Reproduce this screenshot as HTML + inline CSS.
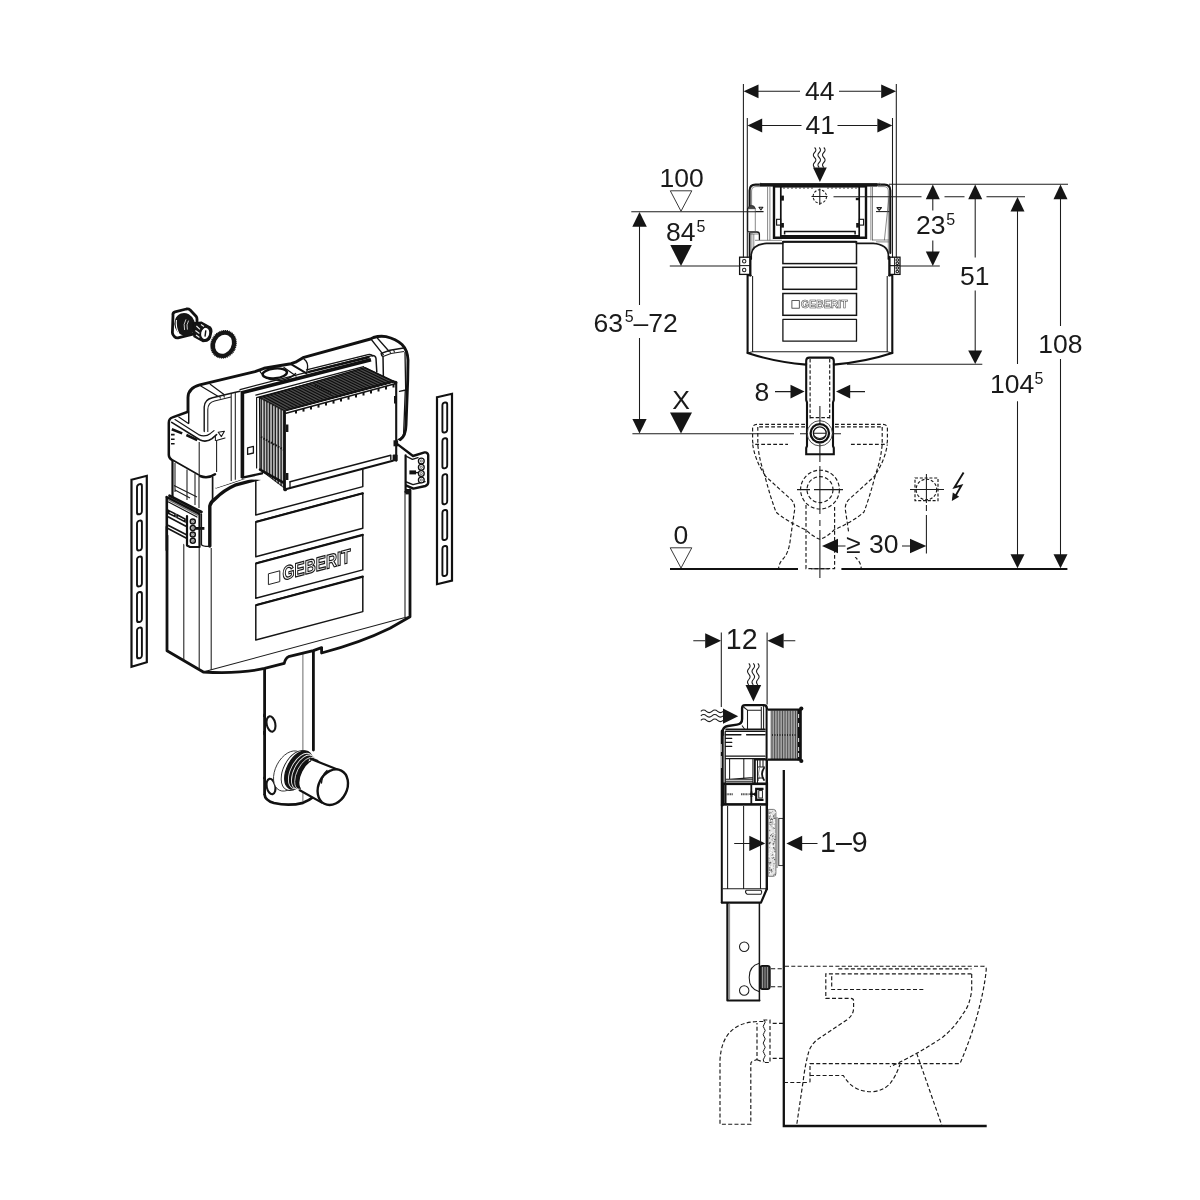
<!DOCTYPE html>
<html><head><meta charset="utf-8"><title>Geberit cistern dimensional drawing</title>
<style>
html,body{margin:0;padding:0;background:#fff;}
body{width:1200px;height:1200px;overflow:hidden;font-family:"Liberation Sans",sans-serif;}
svg{display:block;position:absolute;left:0;top:0;filter:grayscale(1);}
text{font-family:"Liberation Sans",sans-serif;fill:#1a1a1a;}
.t{font-size:26.5px;}
.s{font-size:16px;}
.k{stroke:#111;stroke-width:2;fill:none;stroke-linecap:round;stroke-linejoin:round;}
.m{stroke:#151515;stroke-width:1.3;fill:none;stroke-linecap:round;stroke-linejoin:round;}
.n{stroke:#1c1c1c;stroke-width:1.05;fill:none;stroke-linecap:butt;stroke-linejoin:round;}
.h{stroke:#555;stroke-width:0.7;fill:none;}
.d{stroke:#1a1a1a;stroke-width:1.15;fill:none;stroke-dasharray:4.2 2.4;}
.a{fill:#151515;stroke:none;}
.w{fill:#fff;}
</style></head>
<body>
<svg width="1200" height="1200" viewBox="0 0 1200 1200">
<rect x="0" y="0" width="1200" height="1200" fill="#fff"/>
<!-- ===== FRONT ELEVATION : cistern body ===== -->
<g id="fe-body">
<!-- cover outline -->
<path class="m" d="M749.6,206V190.5Q749.6,184.6 755.5,184.6H884.5Q890.3,184.6 890.3,190.5V253" style="stroke-width:2.1"/>
<path class="h" d="M751.6,206V191Q751.6,186.6 756,186.6H760M888.3,252V191Q888.3,186.6 884,186.6H878"/>
<circle cx="760.8" cy="184.4" r="1.2" class="h"/><circle cx="879.2" cy="184.4" r="1.2" class="h"/>
<!-- top black bar with teeth -->
<rect class="a" x="760" y="183.2" width="117.5" height="3.4"/>
<rect class="a" x="773" y="186" width="94" height="1.6"/>
<path d="M784,187.6V188.8M788,187.6V188.8M792,187.6V188.8M796,187.6V188.8M800,187.6V188.8M804,187.6V188.8M808,187.6V188.8M812,187.6V188.8M828,187.6V188.8M832,187.6V188.8M836,187.6V188.8M840,187.6V188.8M844,187.6V188.8M848,187.6V188.8M852,187.6V188.8M856,187.6V188.8" stroke="#222" stroke-width="1.2"/>
<!-- double thin verticals -->
<path class="h" d="M767.6,186.5V240.3M769.9,186.5V240.3M870.9,186.5V240.3M872.5,186.5V240.3"/>
<!-- actuator frame -->
<path d="M774,186V237.8H866V186" stroke="#111" stroke-width="2.4" fill="none"/>
<path d="M780.8,187V236.5M859.2,187V236.5" stroke="#111" stroke-width="1.7" fill="none"/>
<path d="M780,235.9H860" stroke="#111" stroke-width="2" fill="none"/>
<!-- flap -->
<path d="M784.6,234.5V231.4H855.1V234.5" stroke="#111" stroke-width="1.5" fill="none"/>
<!-- latches -->
<rect class="a" x="781.1" y="195.6" width="2.8" height="5"/>
<rect class="a" x="855.8" y="197.8" width="3.2" height="2.4"/>
<rect x="776.6" y="219.3" width="4" height="5.8" stroke="#111" stroke-width="1.1" fill="#fff"/>
<rect class="a" x="781.1" y="223" width="2.8" height="4.6"/>
<rect x="859.4" y="219.3" width="4.2" height="5.8" stroke="#111" stroke-width="1.1" fill="#fff"/>
<rect class="a" x="856.2" y="223" width="2.8" height="4.6"/>
<!-- cross circle -->
<circle cx="819.8" cy="196.5" r="6.7" class="n" style="stroke-dasharray:2.6 1.6"/>
<path class="n" d="M811.5,196.5H827.5M819.8,188.5V205"/>
<!-- left pocket -->
<path d="M747.6,208.5V230.5Q747.6,232 749.2,232H757Q759.4,232 759.4,234.5V239.5" class="m"/>
<path d="M748,208.6Q748,205.6 751.5,205.4Q754.6,205.4 755.3,208.6Z" fill="#444" stroke="#222" stroke-width="0.8"/>
<path class="h" d="M755.3,208.5V232M748,208.6H755.3"/>
<path class="n" d="M758.9,207.3H762.9L760.9,209.9Z"/>
<path class="n" d="M756,211.5H763.3"/>
<path d="M749.6,233V257" stroke="#111" stroke-width="1.8" fill="none"/>
<path class="h" d="M751.9,233V250M753.8,234V247M749.6,234H759M755,240.3H782"/>
<!-- right pocket / water mark -->
<path class="n" d="M876.9,207.6H881.5L879.2,210.3Z"/>
<path class="n" d="M876,211.6H889.5"/>
<path class="h" d="M888.9,197.5L884.4,240.3M872,240H889.5M876,241.9H889"/>
<!-- tank top + shoulders -->
<path d="M782.6,241.8H856.4" stroke="#111" stroke-width="2" fill="none"/>
<path class="m" d="M751.2,259V254.5Q752.4,244.4 766.5,243.4H782.6M856.4,243.4H873.2Q887.3,244.4 888.4,254.5V259" style="stroke-width:1.7"/>
<!-- brackets -->
<rect x="739.6" y="257.2" width="10.4" height="17.2" stroke="#111" stroke-width="1.3" fill="#fff"/>
<path class="n" d="M739.6,265.6H750"/>
<circle cx="744.2" cy="261.3" r="1.7" class="n"/><circle cx="744.2" cy="270" r="1.7" class="n"/>
<rect x="889.7" y="257.2" width="10.3" height="17.2" stroke="#111" stroke-width="1.3" fill="#fff"/>
<path class="n" d="M889.7,265.6H900M894.6,257.2V274.4"/>
<circle cx="897.3" cy="260" r="1.3" class="n"/><circle cx="897.3" cy="263.3" r="1.3" class="n"/><circle cx="897.3" cy="268" r="1.3" class="n"/><circle cx="897.3" cy="271.5" r="1.3" class="n"/>
<!-- tank sides -->
<path class="k" d="M750.4,257V275.5M747.6,275.5V353M889.3,257V275.5M892.3,275.5V353" style="stroke-width:2.1"/>
<path class="k" d="M747.6,275.5H751M889,275.5H892.3" style="stroke-width:1.6"/>
<path class="n" d="M752.6,276V351.7H887.2V276M747.6,353L752.6,351.7M892.3,353L887.2,351.7"/>
<!-- bottom curve -->
<path class="k" d="M747.6,353Q775,362 806.2,364.6M833.8,364.6Q865,362 892.3,353" style="stroke-width:2.1"/>
<!-- panels -->
<rect x="782.9" y="241.8" width="73.6" height="21.8" class="m" style="stroke-width:1.5;stroke-linejoin:miter"/>
<rect x="782.9" y="267.3" width="73.6" height="22" class="m" style="stroke-width:1.5;stroke-linejoin:miter"/>
<rect x="782.9" y="293.5" width="73.6" height="21.8" class="m" style="stroke-width:1.5;stroke-linejoin:miter"/>
<rect x="782.9" y="319.4" width="73.6" height="21.8" class="m"/>
<!-- logo -->
<rect x="791.9" y="300.6" width="7.4" height="7.6" fill="#fff" stroke="#333" stroke-width="0.8"/>
<text x="801" y="308.2" style="font-size:10.5px;font-weight:bold;fill:#fff;stroke:#444;stroke-width:0.55px;">GEBERIT</text>
<!-- flush pipe -->
<path class="w" d="M806.2,454V360.5Q806.2,357.6 809.2,357.6H830.8Q833.8,357.6 833.8,360.5V454Z"/>
<path class="k" d="M806.2,364V360.8Q806.2,357.6 809.4,357.6H830.6Q833.8,357.6 833.8,360.8V364" style="stroke-width:2.1"/>
<path class="k" d="M806.2,364V400L807,402.5V446L806.2,448V454.2H833.8V448L833,446V402.5L833.8,400V364" style="stroke-width:2.1;stroke-linejoin:miter"/>
<path class="d" d="M810.1,359V420M829.7,359V420M810.1,417.6H829.7" style="stroke-dasharray:3.6 2"/>
<!-- outlet rings -->
<circle cx="819.8" cy="433.3" r="12.6" fill="#fff" stroke="#222" stroke-width="0.8"/>
<circle cx="819.8" cy="433.3" r="9.2" fill="#fff" stroke="#111" stroke-width="2.3"/>
<circle cx="819.8" cy="433.3" r="6.4" fill="#fff" stroke="#111" stroke-width="1.3"/>
<path class="n" d="M813.6,433.3H826M813.9,436Q819.8,441 825.7,436"/>
</g>

<!-- ===== FRONT ELEVATION : toilet (dashed) ===== -->
<g id="fe-toilet" class="d" style="stroke-width:1.15;stroke-dasharray:3.8 2.2">
<path d="M805,424.3H757Q752.6,424.3 752.6,428.8V441Q752.6,444.3 755,444.3H788"/>
<path d="M835,424.3H883Q887.4,424.3 887.4,428.8V441Q887.4,444.3 885,444.3H850.5"/>
<path d="M805,426.9H757.7M835,426.9H882.3"/>
<path d="M757.8,427V444.5Q759.5,462 765.2,476L790,498.5Q795.4,503 794.6,510L790.5,538Q789,553 783,559Q779,563 778.6,568.5"/>
<path d="M882.2,427V444.5Q880.5,462 874.8,476L850,498.5Q844.6,503 845.4,510L849.5,538Q851,553 857,559Q861,563 861.2,568.5"/>
<path d="M752.7,444.5Q755,460 764.5,474.5Q770,496 776,512Q786,521 806,530Q813,537 820,539.2Q827,537 834,530Q854,521 864,512Q870,496 875.5,474.5Q885,460 887.3,444.5"/>
<circle cx="820" cy="489.6" r="19.4"/>
<circle cx="820" cy="489.6" r="13"/>
<path d="M806,505V568.6H834.6V505"/>
</g>
<g class="n">
<path d="M819.9,406V424M819.9,444V462M819.9,466V514M819.9,520V526M819.9,530V578" />
<path d="M797,489.6H810M814,489.6H843"/>
<path d="M811,568.8H829"/>
</g>

<!-- ===== FRONT ELEVATION : dimensions ===== -->
<g id="fe-dims">
<!-- 44 -->
<path class="n" d="M743.4,84V258M896.3,84V258"/>
<path class="n" d="M758,91.3H800M839,91.3H881.5"/>
<polygon class="a" points="743.6,91.3 758.5,84.4 758.5,98.2"/>
<polygon class="a" points="896.1,91.3 881.2,84.4 881.2,98.2"/>
<text class="t" x="805" y="99.6">44</text>
<!-- 41 -->
<path class="n" d="M747.3,118V258M892.5,118V258"/>
<path class="n" d="M761.5,125.5H801.5M837.5,125.5H877.5"/>
<polygon class="a" points="747.5,125.5 762.2,118.6 762.2,132.4"/>
<polygon class="a" points="892.3,125.5 877.4,118.6 877.4,132.4"/>
<text class="t" x="805.5" y="134.3">41</text>
<!-- wave arrow -->
<path class="n" d="M814.6,147.5q2.6,2.5 0,5t0,5t0,5t0,5M819.2,147.5q2.6,2.5 0,5t0,5t0,5t0,5M823.8,147.5q2.6,2.5 0,5t0,5t0,5t0,5"/>
<polygon class="a" points="813,167.6 826.8,167.6 819.9,182"/>
<!-- right side horizontals -->
<path class="n" d="M889,184.3H1068"/>
<path class="n" d="M833.5,196.7H921.5M944.5,196.7H964.5M986.5,196.7H1025"/>
<path class="n" d="M900,266H939.8"/>
<path class="n" d="M847,364.3H982.3"/>
<!-- 23^5 -->
<polygon class="a" points="932.8,184.6 925.8,199.2 939.8,199.2"/>
<path class="n" d="M932.8,199V210.5M932.8,240.5V252"/>
<polygon class="a" points="932.8,265.9 925.8,251.5 939.8,251.5"/>
<text class="t" x="916" y="234.4">23</text><text class="s" x="946.3" y="224.5">5</text>
<!-- 51 -->
<polygon class="a" points="975.2,184.6 968.2,199.2 982.2,199.2"/>
<path class="n" d="M975.2,199V257.5M975.2,290.5V351"/>
<polygon class="a" points="975.2,364.1 968.2,350.5 982.2,350.5"/>
<text class="t" x="960" y="284.8">51</text>
<!-- 104^5 -->
<polygon class="a" points="1017.5,197 1010.5,211.5 1024.5,211.5"/>
<path class="n" d="M1017.5,211V364M1017.5,401.3V555"/>
<polygon class="a" points="1017.5,568.2 1010.5,554.2 1024.5,554.2"/>
<text class="t" x="990" y="393.2">104</text><text class="s" x="1034.6" y="384.3">5</text>
<!-- 108 -->
<polygon class="a" points="1060.5,184.6 1053.5,199.2 1067.5,199.2"/>
<path class="n" d="M1060.5,199V326M1060.5,359V555"/>
<polygon class="a" points="1060.5,568.2 1053.5,554.2 1067.5,554.2"/>
<text class="t" x="1038.3" y="352.6">108</text>
<!-- left side -->
<text class="t" x="659.5" y="186.8">100</text>
<polygon points="670.3,190.8 691.8,190.8 681,211.2" fill="#fff" stroke="#222" stroke-width="0.9"/>
<path class="n" d="M631.3,211.8H763.5"/>
<polygon class="a" points="639.5,212 632.3,226.8 646.8,226.8"/>
<path class="n" d="M639.5,226V305M639.5,338V420"/>
<polygon class="a" points="639.5,433.5 632.4,419 646.6,419"/>
<text class="t" x="593.5" y="331.6">63</text><text class="s" x="624.8" y="322">5</text><text class="t" x="633.6" y="331.6">–72</text>
<text class="t" x="666" y="241.2">84</text><text class="s" x="696.6" y="231.6">5</text>
<polygon class="a" points="670.3,245 691.8,245 681,266"/>
<path class="n" d="M669.8,266H739.7"/>
<text class="t" x="672.2" y="408.6">X</text>
<polygon class="a" points="670,412.4 692,412.4 681,433.6"/>
<path class="n" d="M632.4,433.8H794M800,433.8H808M832,433.8H841"/>
<text class="t" x="673.5" y="544.2">0</text>
<polygon points="670.2,547.8 691.8,547.8 681,568" fill="#fff" stroke="#222" stroke-width="0.9"/>
<!-- floor -->
<path d="M670,569H798M841.4,569H1067.4" stroke="#111" stroke-width="2" fill="none"/>
<!-- 8 -->
<text class="t" x="754.5" y="401.2">8</text>
<path class="n" d="M775,391.6H791M850,391.6H865"/>
<polygon class="a" points="804.6,391.6 790.5,384.7 790.5,398.5"/>
<polygon class="a" points="836,391.6 850.2,384.7 850.2,398.5"/>
<!-- >=30 -->
<polygon class="a" points="822,546 838,538.8 838,553.2"/>
<path class="n" d="M838,546H846M902,546H910"/>
<polygon class="a" points="926.3,546 910,538.8 910,553.2"/>
<rect x="845.5" y="533" width="16" height="24" fill="#fff"/><text class="t" x="846" y="553.2">≥</text><text class="t" x="869" y="553.2">30</text>
<path class="n" d="M926.4,515V553.6"/>
<path class="n" d="M926.4,505V511"/>
<!-- electrical box -->
<rect x="915" y="478" width="23" height="22.6" class="d" style="stroke-dasharray:3 1.8"/>
<circle cx="926.4" cy="489.5" r="10.3" class="d" style="stroke-dasharray:3 1.8"/>
<path class="n" d="M910,489.5H944M926.4,474V503"/>
<path d="M963.6,472.4L954.4,487.4L961.4,485.6L955.4,496" class="m" style="stroke-width:1.9;stroke-linecap:butt;stroke-linejoin:miter"/>
<polygon class="a" points="951.8,501 952.8,492.4 959.2,496.8"/>
</g>

<!-- ===== SIDE VIEW ===== -->
<g id="sv">
<path class="n" d="M721.3,632.5V707M767.1,632.5V704.5"/>
<path class="n" d="M693.3,640.8H705.5M783.5,640.8H795.3"/>
<polygon class="a" points="721.1,640.8 705.2,633.3 705.2,648.3"/>
<polygon class="a" points="767.4,640.8 783.6,633.3 783.6,648.3"/>
<text class="t" style="font-size:28.6px" x="725.8" y="649.4">12</text>
<path class="n" d="M748.8,663.3q2.6,2.7 0,5.4t0,5.4t0,5.4t0,5.4"/>
<path class="n" d="M753.3,663.3q2.6,2.7 0,5.4t0,5.4t0,5.4t0,5.4"/>
<path class="n" d="M757.8,663.3q2.6,2.7 0,5.4t0,5.4t0,5.4t0,5.4"/>
<polygon class="a" points="745.5,685 761.2,685 753.4,701.4"/>
<path class="n" d="M700.8,711.3q2.8,-2.6 5.6,0t5.6,0t5.6,0t5.6,0"/>
<path class="n" d="M700.8,715.8q2.8,-2.6 5.6,0t5.6,0t5.6,0t5.6,0"/>
<path class="n" d="M700.8,720.3q2.8,-2.6 5.6,0t5.6,0t5.6,0t5.6,0"/>
<polygon class="a" points="723,708.5 723,723.8 738.2,716.2"/>
<path class="k" d="M722.6,735V731.5Q722.8,727 728,726L737,724.6Q742.1,724 742.1,719V708.2Q742.1,705.1 745.2,705.1H763.6Q766.8,705.1 766.8,708.2V760" style="stroke-width:2.4"/>
<path class="n" d="M743.5,707L747.5,710.2V729M747.5,710.2H761.3M761.3,707V729M763.6,706V729M742,725.5L744.5,729"/>
<path class="m" d="M726,729.3H765M725.5,731.2H765" style="stroke-width:1.6"/>
<path class="k" d="M722.2,731V805" style="stroke-width:3"/>
<path class="k" d="M721.8,805V902.5" style="stroke-width:2"/>
<path d="M721.2,744V752M721.2,756V768" stroke="#fff" stroke-width="0.9"/>
<path class="m" d="M725.2,732V784"/>
<path class="m" d="M725.5,734.8H740.8M746.7,734.8H765" style="stroke-width:1.6"/>
<path class="m" d="M725.5,738.3H731.8M725.5,742.4H731.8M725.5,746.3H731.8" style="stroke-width:1.2"/>
<path class="m" d="M725.5,756.2H765M725.5,758.6H765"/>
<path class="n" d="M729.6,759V779M743.8,759V779M752.9,759V783M725.5,779.2H753M725.5,781.3H753M729.6,779.2L753,777.5"/>
<path class="m" d="M754.8,759V783M754.8,759.6H766" style="stroke-width:2"/>
<path class="n" d="M757.5,760V783M760,760V767M763,760V767M757.5,767H765M758,781V778H764"/>
<path class="m" d="M764,768Q760,774 764,780" style="stroke-width:1.8"/>
<path class="h" d="M759.5,768Q757.5,774 759.5,779"/>
<path class="k" d="M766.8,760V889" style="stroke-width:2.4"/>
<rect x="723.4" y="783.8" width="43.4" height="20.6" fill="#fff" stroke="#111" stroke-width="2.6"/>
<path class="m" d="M725.6,784V804M751.3,785V803.5" style="stroke-width:1.8"/>
<path d="M726.5,794.2H733M741,794.2H748.5" stroke="#555" stroke-width="2" stroke-dasharray="1.2 0.5"/>
<path d="M749.5,794.2H754M751.5,791.5V797" stroke="#111" stroke-width="1.8" fill="none"/>
<path d="M763.5,788.8H756.2V799.8H763.5" stroke="#111" stroke-width="2.2" fill="none"/>
<path d="M754,794.2H757" stroke="#111" stroke-width="3" fill="none"/>
<rect x="758.8" y="790.6" width="3.6" height="7.4" fill="#fff" stroke="#111" stroke-width="0.9"/>
<path class="n" d="M727.6,806V889M743.6,806V889M760.5,806V889M722.5,888.8H766"/>
<path class="n" d="M746,890.2H761Q762.6,892.2 761,894.2H747Q744.6,892.2 746,890.2Z"/>
<path class="k" d="M721.8,902.6H761L766.8,889" style="stroke-width:2.2"/>
<path class="k" d="M727.4,903V1000.5H759.4" style="stroke-width:2.2"/>
<path class="m" d="M759.4,903V1000.5" style="stroke-width:1.5"/>
<path class="h" d="M729.6,903V999"/>
<circle cx="744.2" cy="946.7" r="4.7" class="n"/><circle cx="744.2" cy="990.5" r="4.7" class="n"/>
<path class="n" d="M759.4,963.3Q749,966 749.2,977.5Q749,989 759.4,991.7"/>
<rect x="760" y="965.8" width="10" height="23.4" rx="2.4" fill="#333" stroke="#111" stroke-width="1.4"/>
<path d="M762.6,967V988M765,967V988M767.4,967V988" stroke="#bbb" stroke-width="0.8"/>
<path class="d" d="M771,968.7H783M771,986.7H783"/>
<rect x="767.6" y="709.6" width="30" height="50" fill="#fff"/>
<rect x="771" y="710.5" width="26.5" height="48.5" fill="#d8d8d8"/>
<path d="M771.20,710.5V759" stroke="#222" stroke-width="0.75"/>
<path d="M772.82,710.5V759" stroke="#222" stroke-width="0.75"/>
<path d="M774.44,710.5V759" stroke="#222" stroke-width="0.75"/>
<path d="M776.06,710.5V759" stroke="#222" stroke-width="0.75"/>
<path d="M777.68,710.5V759" stroke="#222" stroke-width="0.75"/>
<path d="M779.30,710.5V759" stroke="#222" stroke-width="0.75"/>
<path d="M780.92,710.5V759" stroke="#222" stroke-width="0.75"/>
<path d="M782.54,710.5V759" stroke="#222" stroke-width="0.75"/>
<path d="M784.16,710.5V759" stroke="#222" stroke-width="0.75"/>
<path d="M785.78,710.5V759" stroke="#222" stroke-width="0.75"/>
<path d="M787.40,710.5V759" stroke="#222" stroke-width="0.75"/>
<path d="M789.02,710.5V759" stroke="#222" stroke-width="0.75"/>
<path d="M790.64,710.5V759" stroke="#222" stroke-width="0.75"/>
<path d="M792.26,710.5V759" stroke="#222" stroke-width="0.75"/>
<path d="M793.88,710.5V759" stroke="#222" stroke-width="0.75"/>
<path d="M795.50,710.5V759" stroke="#222" stroke-width="0.75"/>
<path d="M797.12,710.5V759" stroke="#222" stroke-width="0.75"/>
<path d="M772,735H796" stroke="#111" stroke-width="1.3" stroke-dasharray="1 1.5"/>
<path d="M767.6,709.6H800M767.6,759.7H800" stroke="#111" stroke-width="2.2" fill="none"/>
<rect x="797.4" y="709" width="4.4" height="51.4" fill="#111"/>
<circle cx="801.3" cy="708.6" r="2.1" fill="#111"/><circle cx="801.3" cy="761" r="2.1" fill="#111"/>
<path d="M798.6,714V718M798.6,723V727M798.6,738V742M798.6,747V751M798.6,753V757" stroke="#fff" stroke-width="0.9"/>
<path d="M768.2,809.4H773.5Q775.9,809.6 775.9,812V873.5Q775.9,876.2 773.5,876.3H768.2Z" fill="#e4e4e4" stroke="#444" stroke-width="0.7"/>
<circle cx="770.9" cy="820.3" r="0.68" fill="#666"/>
<circle cx="774.1" cy="816.6" r="0.64" fill="#fff"/>
<circle cx="770.2" cy="816.1" r="0.56" fill="#888"/>
<circle cx="769.4" cy="838.1" r="0.76" fill="#666"/>
<circle cx="774.9" cy="851.5" r="0.64" fill="#666"/>
<circle cx="772.5" cy="836.3" r="0.84" fill="#666"/>
<circle cx="772.4" cy="819.2" r="0.56" fill="#fff"/>
<circle cx="769.6" cy="830.6" r="0.76" fill="#888"/>
<circle cx="769.5" cy="847.6" r="0.44" fill="#666"/>
<circle cx="772.3" cy="814.6" r="0.38" fill="#888"/>
<circle cx="772.0" cy="845.1" r="0.74" fill="#fff"/>
<circle cx="772.5" cy="840.0" r="0.50" fill="#888"/>
<circle cx="773.3" cy="826.4" r="0.64" fill="#fff"/>
<circle cx="772.0" cy="832.8" r="0.57" fill="#fff"/>
<circle cx="775.1" cy="818.2" r="0.56" fill="#555"/>
<circle cx="769.8" cy="842.3" r="0.37" fill="#666"/>
<circle cx="773.7" cy="847.7" r="0.79" fill="#555"/>
<circle cx="771.0" cy="833.3" r="0.60" fill="#fff"/>
<circle cx="769.2" cy="816.6" r="0.48" fill="#666"/>
<circle cx="769.2" cy="856.1" r="0.67" fill="#fff"/>
<circle cx="770.6" cy="835.6" r="0.68" fill="#666"/>
<circle cx="774.8" cy="833.6" r="0.66" fill="#fff"/>
<circle cx="769.2" cy="860.4" r="0.41" fill="#888"/>
<circle cx="771.3" cy="870.1" r="0.60" fill="#888"/>
<circle cx="771.7" cy="846.2" r="0.79" fill="#fff"/>
<circle cx="774.3" cy="828.6" r="0.56" fill="#555"/>
<circle cx="773.2" cy="835.2" r="0.47" fill="#666"/>
<circle cx="769.9" cy="825.6" r="0.47" fill="#fff"/>
<circle cx="774.1" cy="822.4" r="0.49" fill="#888"/>
<circle cx="771.5" cy="834.5" r="0.63" fill="#888"/>
<circle cx="773.2" cy="844.0" r="0.66" fill="#666"/>
<circle cx="771.7" cy="867.1" r="0.83" fill="#fff"/>
<circle cx="771.3" cy="836.4" r="0.40" fill="#fff"/>
<circle cx="769.2" cy="814.9" r="0.45" fill="#888"/>
<circle cx="769.5" cy="849.5" r="0.40" fill="#fff"/>
<circle cx="769.8" cy="817.1" r="0.53" fill="#666"/>
<circle cx="769.3" cy="824.0" r="0.54" fill="#555"/>
<circle cx="774.9" cy="849.6" r="0.59" fill="#666"/>
<circle cx="774.2" cy="875.1" r="0.58" fill="#fff"/>
<circle cx="770.8" cy="819.9" r="0.72" fill="#555"/>
<circle cx="771.9" cy="855.5" r="0.61" fill="#888"/>
<circle cx="774.9" cy="844.8" r="0.42" fill="#fff"/>
<circle cx="774.7" cy="859.8" r="0.50" fill="#666"/>
<circle cx="773.3" cy="827.5" r="0.53" fill="#888"/>
<circle cx="771.1" cy="825.0" r="0.62" fill="#fff"/>
<circle cx="770.9" cy="825.0" r="0.76" fill="#888"/>
<circle cx="774.0" cy="863.7" r="0.72" fill="#888"/>
<circle cx="770.1" cy="842.5" r="0.72" fill="#666"/>
<circle cx="773.9" cy="841.2" r="0.45" fill="#fff"/>
<circle cx="774.9" cy="839.6" r="0.82" fill="#555"/>
<circle cx="774.9" cy="834.2" r="0.46" fill="#888"/>
<circle cx="771.8" cy="832.5" r="0.59" fill="#fff"/>
<circle cx="774.2" cy="841.7" r="0.68" fill="#666"/>
<circle cx="774.1" cy="818.3" r="0.54" fill="#888"/>
<circle cx="771.9" cy="822.1" r="0.74" fill="#555"/>
<circle cx="769.4" cy="872.0" r="0.71" fill="#fff"/>
<circle cx="771.4" cy="872.0" r="0.71" fill="#888"/>
<circle cx="775.2" cy="812.3" r="0.65" fill="#fff"/>
<circle cx="774.0" cy="820.0" r="0.76" fill="#fff"/>
<circle cx="773.0" cy="833.3" r="0.62" fill="#888"/>
<circle cx="768.9" cy="862.5" r="0.71" fill="#666"/>
<circle cx="772.2" cy="871.2" r="0.57" fill="#888"/>
<circle cx="774.1" cy="824.2" r="0.48" fill="#555"/>
<circle cx="772.0" cy="860.1" r="0.51" fill="#fff"/>
<circle cx="771.5" cy="819.0" r="0.81" fill="#555"/>
<circle cx="774.5" cy="853.6" r="0.76" fill="#fff"/>
<circle cx="771.5" cy="870.2" r="0.60" fill="#fff"/>
<circle cx="769.8" cy="843.7" r="0.79" fill="#888"/>
<circle cx="772.7" cy="860.9" r="0.42" fill="#888"/>
<circle cx="771.8" cy="857.6" r="0.63" fill="#555"/>
<circle cx="773.2" cy="845.0" r="0.59" fill="#666"/>
<circle cx="774.5" cy="814.2" r="0.45" fill="#666"/>
<circle cx="773.7" cy="843.5" r="0.63" fill="#666"/>
<circle cx="771.6" cy="850.3" r="0.60" fill="#fff"/>
<circle cx="770.1" cy="828.5" r="0.60" fill="#fff"/>
<circle cx="772.0" cy="826.6" r="0.61" fill="#555"/>
<circle cx="774.7" cy="868.5" r="0.45" fill="#fff"/>
<circle cx="769.7" cy="818.4" r="0.57" fill="#666"/>
<circle cx="773.1" cy="838.3" r="0.46" fill="#555"/>
<circle cx="773.8" cy="868.8" r="0.43" fill="#555"/>
<circle cx="769.7" cy="867.9" r="0.83" fill="#888"/>
<circle cx="773.6" cy="816.6" r="0.79" fill="#888"/>
<circle cx="775.1" cy="864.6" r="0.43" fill="#fff"/>
<circle cx="775.2" cy="836.7" r="0.56" fill="#555"/>
<circle cx="770.8" cy="857.4" r="0.36" fill="#fff"/>
<circle cx="771.7" cy="856.2" r="0.54" fill="#fff"/>
<circle cx="772.8" cy="843.8" r="0.38" fill="#888"/>
<circle cx="775.0" cy="817.3" r="0.48" fill="#666"/>
<circle cx="774.6" cy="822.3" r="0.73" fill="#fff"/>
<circle cx="774.2" cy="854.4" r="0.82" fill="#fff"/>
<circle cx="769.8" cy="870.2" r="0.64" fill="#555"/>
<circle cx="769.4" cy="814.2" r="0.69" fill="#fff"/>
<circle cx="774.5" cy="828.0" r="0.36" fill="#666"/>
<circle cx="773.9" cy="815.9" r="0.78" fill="#666"/>
<circle cx="770.5" cy="818.4" r="0.36" fill="#fff"/>
<circle cx="771.5" cy="870.0" r="0.66" fill="#666"/>
<circle cx="772.2" cy="826.0" r="0.40" fill="#888"/>
<circle cx="770.5" cy="822.3" r="0.82" fill="#555"/>
<circle cx="772.2" cy="823.9" r="0.57" fill="#888"/>
<circle cx="770.5" cy="862.7" r="0.85" fill="#666"/>
<circle cx="768.9" cy="858.2" r="0.63" fill="#888"/>
<circle cx="772.1" cy="826.5" r="0.57" fill="#fff"/>
<circle cx="773.0" cy="846.0" r="0.79" fill="#fff"/>
<circle cx="770.8" cy="824.5" r="0.46" fill="#888"/>
<circle cx="774.1" cy="856.4" r="0.67" fill="#fff"/>
<circle cx="775.1" cy="874.3" r="0.77" fill="#666"/>
<circle cx="769.3" cy="858.7" r="0.48" fill="#888"/>
<circle cx="769.2" cy="853.7" r="0.54" fill="#fff"/>
<circle cx="773.1" cy="828.8" r="0.47" fill="#555"/>
<circle cx="769.1" cy="822.5" r="0.48" fill="#666"/>
<circle cx="770.5" cy="873.0" r="0.84" fill="#fff"/>
<circle cx="770.9" cy="812.7" r="0.79" fill="#888"/>
<circle cx="771.1" cy="810.6" r="0.54" fill="#fff"/>
<circle cx="770.6" cy="853.1" r="0.47" fill="#666"/>
<circle cx="769.4" cy="863.6" r="0.42" fill="#fff"/>
<circle cx="769.1" cy="812.0" r="0.50" fill="#888"/>
<circle cx="769.3" cy="872.7" r="0.78" fill="#888"/>
<circle cx="773.0" cy="857.0" r="0.79" fill="#fff"/>
<circle cx="773.7" cy="857.3" r="0.60" fill="#555"/>
<circle cx="773.4" cy="852.3" r="0.37" fill="#fff"/>
<circle cx="772.8" cy="858.2" r="0.76" fill="#888"/>
<circle cx="774.6" cy="859.4" r="0.63" fill="#666"/>
<circle cx="774.1" cy="848.5" r="0.80" fill="#888"/>
<circle cx="769.3" cy="813.2" r="0.67" fill="#666"/>
<circle cx="771.2" cy="839.8" r="0.38" fill="#666"/>
<circle cx="772.8" cy="854.7" r="0.59" fill="#666"/>
<circle cx="771.7" cy="815.1" r="0.82" fill="#fff"/>
<circle cx="769.4" cy="844.7" r="0.72" fill="#fff"/>
<circle cx="770.4" cy="815.3" r="0.48" fill="#888"/>
<circle cx="770.3" cy="852.7" r="0.58" fill="#fff"/>
<circle cx="769.3" cy="869.7" r="0.49" fill="#666"/>
<circle cx="772.7" cy="852.3" r="0.39" fill="#888"/>
<circle cx="770.9" cy="852.8" r="0.70" fill="#fff"/>
<circle cx="772.4" cy="811.3" r="0.38" fill="#555"/>
<circle cx="775.0" cy="817.0" r="0.46" fill="#fff"/>
<circle cx="770.7" cy="844.1" r="0.58" fill="#fff"/>
<circle cx="773.7" cy="875.1" r="0.62" fill="#555"/>
<circle cx="775.1" cy="871.4" r="0.36" fill="#fff"/>
<circle cx="769.3" cy="843.4" r="0.85" fill="#555"/>
<circle cx="771.3" cy="870.1" r="0.82" fill="#666"/>
<circle cx="772.5" cy="819.7" r="0.61" fill="#555"/>
<circle cx="769.6" cy="863.8" r="0.60" fill="#666"/>
<circle cx="773.3" cy="825.5" r="0.80" fill="#fff"/>
<circle cx="771.3" cy="820.8" r="0.82" fill="#fff"/>
<circle cx="771.4" cy="857.8" r="0.56" fill="#fff"/>
<circle cx="770.8" cy="865.1" r="0.35" fill="#555"/>
<circle cx="774.2" cy="818.3" r="0.81" fill="#666"/>
<circle cx="774.6" cy="829.3" r="0.54" fill="#fff"/>
<circle cx="771.3" cy="867.0" r="0.39" fill="#fff"/>
<circle cx="773.6" cy="866.0" r="0.49" fill="#666"/>
<path d="M776.9,817V868" stroke="#999" stroke-width="1.6"/>
<rect x="778.8" y="818.4" width="4.4" height="47.2" fill="#fff" stroke="#222" stroke-width="0.9"/>
<path d="M783.8,770V1126H986.7" stroke="#111" stroke-width="2.3" fill="none" stroke-linejoin="miter"/>
<path class="n" d="M734.2,843.4H750M802,843.4H817.5"/>
<polygon class="a" points="765.2,843.4 749.3,835.8 749.3,851"/>
<polygon class="a" points="786.4,843.4 802.2,835.8 802.2,851"/>
<text class="t" style="font-size:28.6px" x="820" y="852.2">1–9</text>
</g>
<!-- ===== SIDE VIEW : toilet + drain (dashed) ===== -->
<g id="sv-toilet" class="d" style="stroke-width:1.15;stroke-dasharray:4 2.3">
<path d="M785,966.2H983Q986.6,966.2 986.2,970Q984.5,990 975,1023.3Q968,1045 960,1063.6H810V1081.5Q810,1082.5 808,1082.5H785"/>
<path d="M838.3,968.8H971.5"/>
<path d="M971.7,974V990Q970,1005 963.3,1013.3Q955,1027 943.3,1036.7Q930,1046 916.7,1053.3Q905,1060 890,1066.7"/>
<path d="M971.5,973.8H825.8V998.3H851Q853.6,998.3 853.6,1001V1008Q853.6,1015 846.7,1020L816.7,1040Q810,1046 808.3,1053.3Q805,1066 803.3,1080L796.7,1125"/>
<path d="M923.3,989.5H831.7V975"/>
<path d="M810,1075.5H843.3Q848,1083 853.3,1086.7Q862,1092 871.7,1091.7Q884,1091 890.5,1083Q896,1076 900,1064.5"/>
<path d="M916.7,1053.3L941.7,1125"/>
<!-- drain elbow -->
<path d="M783,1023.3H771M783,1058.3H771"/>
<path d="M763.3,1020H770V1062.5H763.3"/>
<path d="M763.3,1021.5H757Q722,1023 720,1060V1124.2H750.8V1064Q750.8,1061.7 753,1061L757,1059.5V1023"/>
<path d="M757,1059.8L763.3,1062"/>
</g>
<path class="n" d="M764.2,1020q2,2.1 0,4.2t0,4.2t0,4.2t0,4.2t0,4.2t0,4.2t0,4.2t0,4.2t0,4.2t0,4.2" style="stroke-width:1"/>

<!-- ===== ISOMETRIC VIEW ===== -->
<g id="iso">
<path d="M131.5,479.7L146.8,475.8V662.2L131.5,666.7Z" fill="#fff" stroke="#111" stroke-width="2.2" stroke-linejoin="miter"/>
<rect x="137" y="484.2" width="4.9" height="30.0" rx="2.5" fill="#fff" stroke="#111" stroke-width="1.9" transform="skewY(-12) translate(0,0)" style="transform-origin:139.45px 499.20000000000005px"/>
<rect x="137" y="520.6" width="4.9" height="29.8" rx="2.5" fill="#fff" stroke="#111" stroke-width="1.9" transform="skewY(-12) translate(0,0)" style="transform-origin:139.45px 535.5px"/>
<rect x="137" y="556.6" width="4.9" height="29.8" rx="2.5" fill="#fff" stroke="#111" stroke-width="1.9" transform="skewY(-12) translate(0,0)" style="transform-origin:139.45px 571.5px"/>
<rect x="137" y="592" width="4.9" height="30.0" rx="2.5" fill="#fff" stroke="#111" stroke-width="1.9" transform="skewY(-12) translate(0,0)" style="transform-origin:139.45px 607.0px"/>
<rect x="137" y="627.6" width="4.9" height="30.6" rx="2.5" fill="#fff" stroke="#111" stroke-width="1.9" transform="skewY(-12) translate(0,0)" style="transform-origin:139.45px 642.9000000000001px"/>
<path d="M437,397.2L452,393.8V580.6L437,584.2Z" fill="#fff" stroke="#111" stroke-width="2.2" stroke-linejoin="miter"/>
<rect x="442.4" y="402.5" width="4.8" height="30.0" rx="2.4" fill="#fff" stroke="#111" stroke-width="1.9" transform="skewY(-12) translate(0,0)" style="transform-origin:444.79999999999995px 417.5px"/>
<rect x="442.4" y="438.3" width="4.8" height="30.0" rx="2.4" fill="#fff" stroke="#111" stroke-width="1.9" transform="skewY(-12) translate(0,0)" style="transform-origin:444.79999999999995px 453.3px"/>
<rect x="442.4" y="474.2" width="4.8" height="30.0" rx="2.4" fill="#fff" stroke="#111" stroke-width="1.9" transform="skewY(-12) translate(0,0)" style="transform-origin:444.79999999999995px 489.2px"/>
<rect x="442.4" y="510" width="4.8" height="30.0" rx="2.4" fill="#fff" stroke="#111" stroke-width="1.9" transform="skewY(-12) translate(0,0)" style="transform-origin:444.79999999999995px 525.0px"/>
<rect x="442.4" y="546" width="4.8" height="30.0" rx="2.4" fill="#fff" stroke="#111" stroke-width="1.9" transform="skewY(-12) translate(0,0)" style="transform-origin:444.79999999999995px 561.0px"/>
<path d="M264.6,668V794Q265,801 275,803.5Q290,806.5 303,802.5Q310,800 313.4,796V650Z" fill="#fff" stroke="none"/>
<path class="k" d="M264.6,669V794.5Q265,800.5 274,803Q289,806.5 303,802.8Q309,800.5 312.5,797.5" style="stroke-width:2.8"/>
<path class="k" d="M313.4,651.5V750" style="stroke-width:2.8"/>
<path class="h" d="M302.9,652V802" style="stroke-width:0.8;stroke:#444"/>
<ellipse cx="271" cy="724" rx="4.3" ry="7.8" class="m" transform="rotate(-12 271 724)" style="stroke-width:2.1"/>
<ellipse cx="271" cy="786.5" rx="4.3" ry="7.8" class="m" transform="rotate(-12 271 786.5)" style="stroke-width:2.1"/>
<path d="M258,717h6.6v14h-6.6zM258,779h6.6v15h-6.6z" fill="#fff"/>
<path class="k" d="M264.6,715V734M264.6,778V794" style="stroke-width:2.8"/>
<ellipse cx="289" cy="771" rx="13.5" ry="21.5" transform="rotate(27 289 771)" fill="#fff" stroke="#222" stroke-width="0.8"/>
<ellipse cx="296" cy="770.5" rx="12.5" ry="21.5" transform="rotate(27 296 770.5)" fill="#fff" stroke="#222" stroke-width="0.9"/>
<ellipse cx="298.6" cy="770" rx="11.6" ry="20.6" transform="rotate(27 298.6 770)" fill="#131313" stroke="#111" stroke-width="1.2"/>
<ellipse cx="301" cy="771" rx="10.2" ry="19.2" transform="rotate(27 301 771)" fill="none" stroke="#e8e8e8" stroke-width="0.9"/>
<ellipse cx="303.4" cy="772" rx="9.6" ry="18.4" transform="rotate(27 303.4 772)" fill="#131313" stroke="#e8e8e8" stroke-width="0.9"/>
<ellipse cx="306" cy="773.4" rx="9" ry="17.6" transform="rotate(27 306 773.4)" fill="#131313" stroke="#ddd" stroke-width="0.8"/>
<path d="M309.5,758.5L337,769.5L323,803L299,790Z" fill="#fff"/>
<ellipse cx="309.4" cy="775" rx="8.6" ry="16.6" transform="rotate(27 309.4 775)" fill="#fff" stroke="#111" stroke-width="1.4"/>
<path d="M312,759L338,770L322,802.5L300,790.5Z" fill="#fff"/>
<path class="k" d="M310.5,758.8L337.5,769.6M299.8,790.3L321.8,802.6" style="stroke-width:2.2"/>
<ellipse cx="332.8" cy="787.2" rx="14.2" ry="18.6" transform="rotate(27 332.8 787.2)" fill="#fff" stroke="#111" stroke-width="2.4"/>
<path class="m" d="M321.5,783Q322,775 327,770.5"/>
<path d="M167,527V650.8L203.3,672Q240,674 264,668.3L284.2,663.3Q285.5,658 288.3,656.7L313.3,650.6L321.6,647.6V653Q360,643 390,628.3L410,616.7V489L396,460L256,478L226,488Q211,495 209.6,506V546Z" fill="#fff"/>
<path class="k" d="M167,527V650.8L203.3,672Q240,674 264.6,668.4L284.2,663.3Q285.5,658 288.5,656.7L313.3,650.6L321.6,647.6V653Q360,643 390,628.3L410,616.7V490" style="stroke-width:2.8"/>
<path class="n" d="M183.8,537V660.4M199.2,547V669.6M211.2,548V670"/>
<path class="n" d="M211.2,669.8L405,617.6V491"/>
<path class="n" d="M203.5,672L211.2,669.8M405,617.6L410,616.7"/>
<path class="k" d="M209.8,546V506Q210.5,502 215,499Q224,490 236,484.8L256,479.6" style="stroke-width:3.4"/>
<path class="m" d="M216,488Q229,484 243,479L262,474.5" style="stroke-width:1.2"/>
<path class="m" d="M255.8,480L362.8,451.6V486.6L255.8,515Z" style="stroke-width:1.5"/>
<path class="k" d="M256.8,480L362.8,451.6" style="stroke-width:2.2"/>
<path class="m" d="M255.8,521.7L362.8,493.3V528.3L255.8,556.7Z" style="stroke-width:1.5"/>
<path class="k" d="M256.8,521.7L362.8,493.3" style="stroke-width:2.2"/>
<path class="m" d="M255.8,563.3L362.8,534.9V569.9L255.8,598.3Z" style="stroke-width:1.5"/>
<path class="k" d="M256.8,563.3L362.8,534.9" style="stroke-width:2.2"/>
<path class="m" d="M255.8,605L362.8,576.6V611.6L255.8,640Z" style="stroke-width:1.5"/>
<path class="k" d="M256.8,605L362.8,576.6" style="stroke-width:2.2"/>
<path d="M268.4,573.8L279.8,570.8V581.6L268.4,584.6Z" fill="#fff" stroke="#222" stroke-width="1"/>
<text x="0" y="0" transform="matrix(0.78,-0.207,0,1,282.6,580.4)" style="font-size:19.6px;font-weight:bold;fill:#fff;stroke:#1a1a1a;stroke-width:1.25px">GEBERIT</text>
</g>
<!-- ===== ISOMETRIC VIEW : upper parts ===== -->
<g id="iso-top">
<path d="M188,424V397.5Q188.2,388 199.7,384.9L255,371.7L264,368.3L291,363.7L295.5,362.2L303,357.7L370.5,339L373.5,337.5Q380,335.5 386,336.6Q396,339 402,344.5Q407.5,350 408,360L407.7,380L406,425Q405.8,436 400.3,439.6L396,446V460L285,489L262,480L243,479L216,488L204,470V432Z" fill="#fff"/>
<path class="k" d="M188,423V397.5Q188.2,388 199.7,384.9L255,371.7L264,368.3L291,363.7L295.5,362.2L303,357.7L370.5,339L373.5,337.5Q380,335.5 386,336.6Q396,339 402,344.5Q407.5,350 408,360L407.7,380L406,425Q405.8,436 400.3,439.6" style="stroke-width:2.9"/>
<path class="m" d="M200.8,386L218.3,396.5M210.2,384.2L224,394.6" style="stroke-width:1.2"/>
<path class="m" d="M204.2,431.5V407Q204.4,399.5 212.5,397.7L232.3,393L240,391.2" style="stroke-width:1.4"/>
<path class="n" d="M207.8,432V409.5Q208,402.6 214.5,401L231,397"/>
<path class="n" d="M219.5,396L220.5,398.5M223.5,395L224.5,397.5"/>
<path class="n" d="M231.2,393.8V481M235.3,392.8V479.8"/>
<path class="n" d="M216.6,440V472"/>
<path class="m" d="M240,389.6L372,355.6" style="stroke-width:1.2"/>
<path d="M242.4,478V392.6L371,359.8" stroke="#111" stroke-width="3.6" fill="none" stroke-linejoin="miter"/>
<path class="m" d="M372,355.6Q375.6,355.4 376,358.5L376.8,372" style="stroke-width:1.5"/>
<path class="m" d="M259.5,370.6Q262,376 270,379.5L281,380.5Q292,378 295.6,373.5" style="stroke-width:1.3"/>
<ellipse cx="274.8" cy="373.4" rx="12.2" ry="4.9" fill="#fff" stroke="#111" stroke-width="2.4" transform="rotate(-6 274.8 373.4)"/>
<path class="k" d="M291,364.2L306.5,373.4" style="stroke-width:2"/>
<path class="m" d="M284,367.5L296,376M303,358L306,361Q309,365 306.5,373.4" style="stroke-width:1.3"/>
<path class="m" d="M306.5,369.8L368,354.6Q371.5,353.8 372.5,356" style="stroke-width:1.3"/>
<path d="M308,372.2L369.5,357" stroke="#111" stroke-width="2.4" fill="none"/>
<path class="m" d="M371.7,340L383.3,354.6M377.5,338.2L389,351.2" style="stroke-width:1.3"/>
<path class="m" d="M381.2,353.4L390,350.2L403.5,348M381.2,353.4Q381.4,356 383,356.6L383.4,378" style="stroke-width:1.5"/>
<path class="n" d="M389.5,350.4L390.5,353M393.5,349.6L394.5,352.2M383,356.6L391,353.6L404,351.4"/>
<path class="m" d="M405,352.5L405.7,390L399.5,391.4M405.3,390L403.6,434Q403.2,437.5 398,439.6" style="stroke-width:1.3"/>
</g>
<g id="iso-box">
<path class="m" d="M255.8,395.2L363.7,366.6M256.6,468V397.6L364.5,369" style="stroke-width:1.2"/>
<path d="M259.5,397.6L364.5,367.6L394.5,382L285,411.4Z" fill="#4a4a4a" stroke="#111" stroke-width="1.2"/>
<path d="M263.0,396.6L288.6,410.4" stroke="#0c0c0c" stroke-width="1.1"/>
<path d="M266.5,395.6L292.3,409.4" stroke="#0c0c0c" stroke-width="1.1"/>
<path d="M270.0,394.6L295.9,408.5" stroke="#0c0c0c" stroke-width="1.1"/>
<path d="M273.5,393.6L299.6,407.5" stroke="#0c0c0c" stroke-width="1.1"/>
<path d="M277.0,392.6L303.2,406.5" stroke="#0c0c0c" stroke-width="1.1"/>
<path d="M280.5,391.6L306.9,405.5" stroke="#0c0c0c" stroke-width="1.1"/>
<path d="M284.0,390.6L310.6,404.5" stroke="#0c0c0c" stroke-width="1.1"/>
<path d="M287.5,389.6L314.2,403.6" stroke="#0c0c0c" stroke-width="1.1"/>
<path d="M291.0,388.6L317.9,402.6" stroke="#0c0c0c" stroke-width="1.1"/>
<path d="M294.5,387.6L321.5,401.6" stroke="#0c0c0c" stroke-width="1.1"/>
<path d="M298.0,386.6L325.1,400.6" stroke="#0c0c0c" stroke-width="1.1"/>
<path d="M301.5,385.6L328.8,399.6" stroke="#0c0c0c" stroke-width="1.1"/>
<path d="M305.0,384.6L332.4,398.7" stroke="#0c0c0c" stroke-width="1.1"/>
<path d="M308.5,383.6L336.1,397.7" stroke="#0c0c0c" stroke-width="1.1"/>
<path d="M312.0,382.6L339.8,396.7" stroke="#0c0c0c" stroke-width="1.1"/>
<path d="M315.5,381.6L343.4,395.7" stroke="#0c0c0c" stroke-width="1.1"/>
<path d="M319.0,380.6L347.1,394.7" stroke="#0c0c0c" stroke-width="1.1"/>
<path d="M322.5,379.6L350.7,393.8" stroke="#0c0c0c" stroke-width="1.1"/>
<path d="M326.0,378.6L354.4,392.8" stroke="#0c0c0c" stroke-width="1.1"/>
<path d="M329.5,377.6L358.0,391.8" stroke="#0c0c0c" stroke-width="1.1"/>
<path d="M333.0,376.6L361.6,390.8" stroke="#0c0c0c" stroke-width="1.1"/>
<path d="M336.5,375.6L365.3,389.8" stroke="#0c0c0c" stroke-width="1.1"/>
<path d="M340.0,374.6L368.9,388.9" stroke="#0c0c0c" stroke-width="1.1"/>
<path d="M343.5,373.6L372.6,387.9" stroke="#0c0c0c" stroke-width="1.1"/>
<path d="M347.0,372.6L376.2,386.9" stroke="#0c0c0c" stroke-width="1.1"/>
<path d="M350.5,371.6L379.9,385.9" stroke="#0c0c0c" stroke-width="1.1"/>
<path d="M354.0,370.6L383.6,384.9" stroke="#0c0c0c" stroke-width="1.1"/>
<path d="M357.5,369.6L387.2,384.0" stroke="#0c0c0c" stroke-width="1.1"/>
<path d="M361.0,368.6L390.9,383.0" stroke="#0c0c0c" stroke-width="1.1"/>
<path d="M315,384.8L331.5,393" stroke="#111" stroke-width="2" stroke-dasharray="1.2 1.2"/>
<path d="M365,367.6L367,368.6L395,382" stroke="#111" stroke-width="1.6" fill="none"/>
<path d="M259.5,397.6L285,411.4V488.4L260,469.4Z" fill="#fff" stroke="#111" stroke-width="1.2"/>
<path d="M261.2,398.5V470.7" stroke="#222" stroke-width="1.5"/>
<path d="M262.8,399.4V471.9" stroke="#999" stroke-width="0.8"/>
<path d="M264.1,400.1V472.8" stroke="#222" stroke-width="1.5"/>
<path d="M265.7,401.0V474.0" stroke="#999" stroke-width="0.8"/>
<path d="M266.9,401.6V474.9" stroke="#222" stroke-width="1.5"/>
<path d="M268.5,402.5V476.1" stroke="#999" stroke-width="0.8"/>
<path d="M269.7,403.1V477.0" stroke="#222" stroke-width="1.5"/>
<path d="M271.3,404.0V478.2" stroke="#999" stroke-width="0.8"/>
<path d="M272.6,404.7V479.2" stroke="#222" stroke-width="1.5"/>
<path d="M274.2,405.6V480.4" stroke="#999" stroke-width="0.8"/>
<path d="M275.4,406.2V481.3" stroke="#222" stroke-width="1.5"/>
<path d="M277.0,407.1V482.5" stroke="#999" stroke-width="0.8"/>
<path d="M278.2,407.7V483.4" stroke="#222" stroke-width="1.5"/>
<path d="M279.8,408.6V484.6" stroke="#999" stroke-width="0.8"/>
<path d="M281.1,409.3V485.5" stroke="#222" stroke-width="1.5"/>
<path d="M282.7,410.2V486.7" stroke="#999" stroke-width="0.8"/>
<path d="M283.9,410.8V487.6" stroke="#222" stroke-width="1.5"/>
<path d="M285.5,411.7V488.8" stroke="#999" stroke-width="0.8"/>
<path d="M261,437L283.5,449.6" stroke="#111" stroke-width="2" stroke-dasharray="1.4 1.4"/>
<path d="M285.4,411.6L396,382.2L396.6,460.4L285.4,489Z" fill="#fff" stroke="none"/>
<path class="k" d="M284.6,411.8V489" style="stroke-width:2.6"/>
<path class="m" d="M286,413.2L396,383.6" style="stroke-width:1.6"/><path class="m" d="M396.2,383.6V460.6" style="stroke-width:2.1"/>
<path class="m" d="M287,409.6L394,381" style="stroke-width:1.3"/>
<path d="M296.0,410.0v3.6" stroke="#111" stroke-width="2"/>
<path d="M303.5,408.0v3.6" stroke="#111" stroke-width="2"/>
<path d="M311.0,406.0v3.6" stroke="#111" stroke-width="2"/>
<path d="M318.5,404.0v3.6" stroke="#111" stroke-width="2"/>
<path d="M326.0,402.0v3.6" stroke="#111" stroke-width="2"/>
<path d="M333.5,400.0v3.6" stroke="#111" stroke-width="2"/>
<path d="M341.0,398.0v3.6" stroke="#111" stroke-width="2"/>
<path d="M348.5,396.0v3.6" stroke="#111" stroke-width="2"/>
<path d="M356.0,393.9v3.6" stroke="#111" stroke-width="2"/>
<path d="M363.5,391.9v3.6" stroke="#111" stroke-width="2"/>
<path d="M371.0,389.9v3.6" stroke="#111" stroke-width="2"/>
<path d="M378.5,387.9v3.6" stroke="#111" stroke-width="2"/>
<path d="M386.0,385.9v3.6" stroke="#111" stroke-width="2"/>
<path d="M393.5,383.9v3.6" stroke="#111" stroke-width="2"/>
<rect x="286" y="424.5" width="2.4" height="7.5" class="a"/><rect x="286" y="473" width="2.4" height="7" class="a"/>
<rect x="394" y="396" width="2.4" height="7.5" class="a"/><circle cx="395.6" cy="382.6" r="1.9" class="a"/>
<rect x="393.5" y="440.3" width="4.6" height="6" class="a"/>
<path class="m" d="M290,481.8L390.8,455.2V459.6" style="stroke-width:1.4"/>
<path class="k" d="M286.5,489L392.8,460.8" style="stroke-width:2.2"/>
<path class="m" d="M290,481.8V487.6" style="stroke-width:1.3"/>
<circle cx="285.2" cy="489.4" r="1.9" class="a"/><rect x="392.6" y="454.6" width="5" height="6.6" rx="1" class="a"/>
<path d="M247.6,447.8L253.4,446.4V453L247.6,454.4Z" class="m" style="stroke-width:1.3"/>
<path class="k" d="M242.4,477.6L262,473.4M260,469.6L283,482.4" style="stroke-width:2.4"/>
</g>
<g id="iso-left">
<path d="M168.8,422Q168.8,418.4 172,417.6L188,411.8V424L204,432V470L200,476L169,458Z" fill="#fff"/>
<path class="k" d="M188,411.8L172.5,417.4Q168.8,418.6 168.8,423V455Q169,458.5 172,460L200,476Q208,479 215,474.2" style="stroke-width:2.5"/>
<path class="m" d="M171.7,422.4L199.7,439.8Q206,443 212,438.6L216.6,434.6" style="stroke-width:1.6"/>
<path class="m" d="M175,419.6L198.5,434.6Q205,437.6 210.5,433.4L214,430.6M178.8,417L188,423.2" style="stroke-width:1.2"/>
<path class="n" d="M199.2,442V475M215.4,436V441"/>
<path d="M171.8,429.2L182.2,433.4M186.4,435L197.2,440.2" stroke="#111" stroke-width="2.6" fill="none"/>
<path d="M171,434.6h3.6M171,439.2h3.6M171,443.8h3.6" stroke="#111" stroke-width="1.6" fill="none"/>
<path class="m" d="M218.2,432.2L224.4,431.2L221.4,436.6Z" style="stroke-width:1.1"/>
<path class="m" d="M217.2,440.2L225,438" style="stroke-width:1.1"/>
<path d="M172.5,461V497L199,512V476Z" fill="#fff"/>
<path class="k" d="M172.5,461.5V497" style="stroke-width:2.2"/>
<path class="n" d="M175,463V492M187,469.5V500M195,473.5V505M199,476V508"/>
<path class="m" d="M212.6,477V500" style="stroke-width:1.7"/>
<path class="n" d="M175,490L190,498M174,485.5L197,497"/>
<path d="M166.6,497L170,495.4L199.2,511.8L203,514V546H187L166.6,534Z" fill="#fff"/>
<path class="k" d="M166.8,497.2V550M166.6,497.2L199.2,513.8M169.5,495.6L201.5,512" style="stroke-width:2.6"/>
<path class="m" d="M168.5,502L197,517" style="stroke-width:1.2"/><path d="M168,499.6L198,515.2" stroke="#777" stroke-width="1.6" fill="none"/><path class="m" d="M168.5,517L185.5,526M168.5,525.4L186,534.6M168,528.6L186,538" style="stroke-width:1.7"/><path d="M168.8,510.6L175,513.8V516.4L168.8,513.4ZM177,514.8L185,519V521.6L177,517.6Z" fill="#fff" stroke="#111" stroke-width="1.6"/>

<path class="k" d="M187,516V545.5L190,547H199.5V514.5" style="stroke-width:2.2"/>
<circle cx="192.8" cy="521.5" r="2.5" fill="#fff" stroke="#111" stroke-width="1.5"/><circle cx="192.8" cy="521.5" r="1" fill="none" stroke="#444" stroke-width="0.7"/>
<circle cx="192.8" cy="528" r="2.5" fill="#fff" stroke="#111" stroke-width="1.5"/><circle cx="192.8" cy="528" r="1" fill="none" stroke="#444" stroke-width="0.7"/>
<circle cx="192.8" cy="534.4" r="2.5" fill="#fff" stroke="#111" stroke-width="1.5"/><circle cx="192.8" cy="534.4" r="1" fill="none" stroke="#444" stroke-width="0.7"/>
<circle cx="192.8" cy="540.8" r="2.5" fill="#fff" stroke="#111" stroke-width="1.5"/><circle cx="192.8" cy="540.8" r="1" fill="none" stroke="#444" stroke-width="0.7"/>
<path d="M195.6,528.4H204.4" stroke="#111" stroke-width="2.8"/>
<path class="m" d="M201.4,514V544.6Q203,546.6 209.6,546.4" style="stroke-width:1.4"/>
</g>
<g id="iso-rbr">
<path d="M398,445L413,456L425,452.3L428.4,455V484.6L413,488.6L406,486Z" fill="#fff"/>
<path class="k" d="M398,444.6L413,456L424.6,452.4Q427.6,452 428.2,455V482.6Q428.2,485 425.4,486L413.4,488.6L406.4,485.6" style="stroke-width:2.4"/>
<path class="k" d="M405.6,455.4V492" style="stroke-width:2.2"/>
<path class="m" d="M406.4,456.4L412.4,459.4L418,457.6M406.4,482L413,484.6L425,481.6" style="stroke-width:1.4"/>
<circle cx="421.3" cy="461" r="2.9" fill="#fff" stroke="#111" stroke-width="1.3"/><circle cx="421.3" cy="461" r="1.1" fill="none" stroke="#333" stroke-width="0.7"/>
<circle cx="421.3" cy="467.3" r="2.9" fill="#fff" stroke="#111" stroke-width="1.3"/><circle cx="421.3" cy="467.3" r="1.1" fill="none" stroke="#333" stroke-width="0.7"/>
<circle cx="421.3" cy="473.6" r="2.9" fill="#fff" stroke="#111" stroke-width="1.3"/><circle cx="421.3" cy="473.6" r="1.1" fill="none" stroke="#333" stroke-width="0.7"/>
<circle cx="421.3" cy="480" r="2.9" fill="#fff" stroke="#111" stroke-width="1.3"/><circle cx="421.3" cy="480" r="1.1" fill="none" stroke="#333" stroke-width="0.7"/>
<path d="M409.4,472.4H416" stroke="#111" stroke-width="4"/>
<path d="M414,472.6H419" stroke="#111" stroke-width="1.4"/>
<rect x="405.4" y="489" width="4.8" height="5.4" class="a"/>
</g>
<g id="iso-valve">
<path d="M173,315.4Q172.4,312.6 175,311.8L186.4,309Q188.6,308.6 190.2,310L196,316.2Q197,317.4 197,319V331Q197,333 195,333.6L178,337.8Q176,338.2 174.6,336.8L173.2,335Q172.4,334 172.4,332.6Z" fill="#fff" stroke="#111" stroke-width="2.8"/>
<ellipse cx="184.8" cy="324.4" rx="10.2" ry="11.6" fill="#151515" transform="rotate(-20 184.8 324.4)"/>
<path d="M176.4,320Q175.6,327 178.6,333" stroke="#fff" stroke-width="1.1" fill="none"/>
<path d="M186,319.4Q183,324 184.6,330M188.6,320.6Q186,324.6 187.4,329.6" stroke="#ddd" stroke-width="0.9" fill="none"/>
<path d="M193,323L201.4,322.2L210.6,327.4Q212,329 211.8,331.4L210.4,337.6Q209.6,340.2 207,341L203,341.6L194,336.6Z" fill="#151515" stroke="#111" stroke-width="1.4"/>
<path d="M196.4,326L200,329.4M195.4,330.6L199.4,333.4M196,335L199.4,337.4M201,324.6L204,326.4" stroke="#eee" stroke-width="1.2" fill="none"/>
<ellipse cx="205.2" cy="333.4" rx="4.6" ry="6.2" fill="#fff" stroke="#111" stroke-width="1.2" transform="rotate(12 205.2 333.4)"/>
<path d="M205.8,330.4L205,336.6" stroke="#111" stroke-width="1.4"/>
<ellipse cx="223.5" cy="344.3" rx="10.2" ry="12" fill="none" stroke="#151515" stroke-width="4.2" transform="rotate(28 223.5 344.3)"/>
<ellipse cx="223.5" cy="344.3" rx="12.4" ry="14.2" fill="none" stroke="#151515" stroke-width="1.2" stroke-dasharray="1 0.9" transform="rotate(28 223.5 344.3)"/>
</g>
</svg>
</body></html>
